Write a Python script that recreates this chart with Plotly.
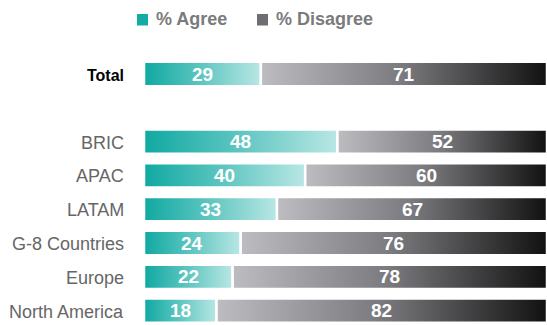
import plotly.graph_objects as go

# Survey results: share of respondents agreeing / disagreeing, by region
categories = ["Total", "BRIC", "APAC", "LATAM", "G-8 Countries", "Europe", "North America"]
agree = [29, 48, 40, 33, 24, 22, 18]
disagree = [71, 52, 60, 67, 76, 78, 82]
series_names = ["% Agree", "% Disagree"]

W, H = 547, 325
M_L, M_R, M_T, M_B = 144, 0, 57, 0
ROW_PX = 33.8          # pixel spacing between rows
HALF = 0.36            # half bar thickness in row units

AGREE_SCALE = [[0, "#0fa9a1"], [0.5, "#60c6c1"], [1, "#b9e7e4"]]
DISAGREE_SCALE = [[0, "#bdbdc1"], [0.5, "#7a7a7e"], [1, "#111111"]]

# the "Total" row sits apart from the regional rows, one empty slot below it
rows = [0] + [i + 2 for i in range(len(categories) - 1)]

plot_h = H - M_T - M_B
y_top = -17 / ROW_PX
y_bot = y_top + plot_h / ROW_PX

fig = go.Figure()


def add_segment(x0, x1, yc, scale):
    fig.add_trace(go.Scatter(
        x=[x0, x1, x1, x0, x0],
        y=[yc - HALF, yc - HALF, yc + HALF, yc + HALF, yc - HALF],
        mode="lines",
        fill="toself",
        fillgradient=dict(type="horizontal", colorscale=scale),
        line=dict(color="white", width=2.5),
        hoverinfo="skip",
        showlegend=False,
    ))


annotations = []
for cat, yc, a, d in zip(categories, rows, agree, disagree):
    add_segment(0, a, yc, AGREE_SCALE)
    add_segment(a, a + d, yc, DISAGREE_SCALE)
    for x0, x1, v in ((0, a, a), (a, a + d, d)):
        annotations.append(dict(
            x=(x0 + x1) / 2, y=yc, xref="x", yref="y", text=f"<b>{v}</b>",
            showarrow=False, font=dict(family="Liberation Sans, Arial", size=19, color="white"),
        ))
    is_total = cat == "Total"
    annotations.append(dict(
        x=0, y=yc, xref="paper", yref="y", xanchor="right", xshift=-18, yshift=-1,
        text=f"<b>{cat}</b>" if is_total else cat, showarrow=False,
        font=dict(family="Liberation Sans, Arial", size=16 if is_total else 18,
                  color="#000000" if is_total else "#666666"),
    ))


# legend drawn as swatches + labels above the bars
def px_to_paper(px, py):
    return (px - M_L) / (W - M_L - M_R), (H - M_B - py) / plot_h


shapes = []
legend_items = [(137, "#13aba4"), (257, "#6e6e72")]
for (sx, color), name in zip(legend_items, series_names):
    x0, y0 = px_to_paper(sx, 25.5)
    x1, y1 = px_to_paper(sx + 11, 14)
    shapes.append(dict(type="rect", xref="paper", yref="paper", x0=x0, x1=x1, y0=y0, y1=y1,
                       fillcolor=color, line=dict(width=0)))
    tx, ty = px_to_paper(sx + 17, 19.5)
    annotations.append(dict(
        x=tx, y=ty, xref="paper", yref="paper", xanchor="left", yanchor="middle",
        text=f"<b>{name}</b>", showarrow=False,
        font=dict(family="Liberation Sans, Arial", size=18, color="#7b7b7b"),
    ))

fig.update_layout(
    width=W, height=H,
    margin=dict(l=M_L, r=M_R, t=M_T, b=M_B),
    paper_bgcolor="white", plot_bgcolor="white",
    xaxis=dict(range=[0, 100], visible=False, fixedrange=True),
    yaxis=dict(range=[y_bot, y_top], visible=False, fixedrange=True),
    annotations=annotations,
    shapes=shapes,
    showlegend=False,
)

fig.write_html("out.html", config={"displayModeBar": False})
